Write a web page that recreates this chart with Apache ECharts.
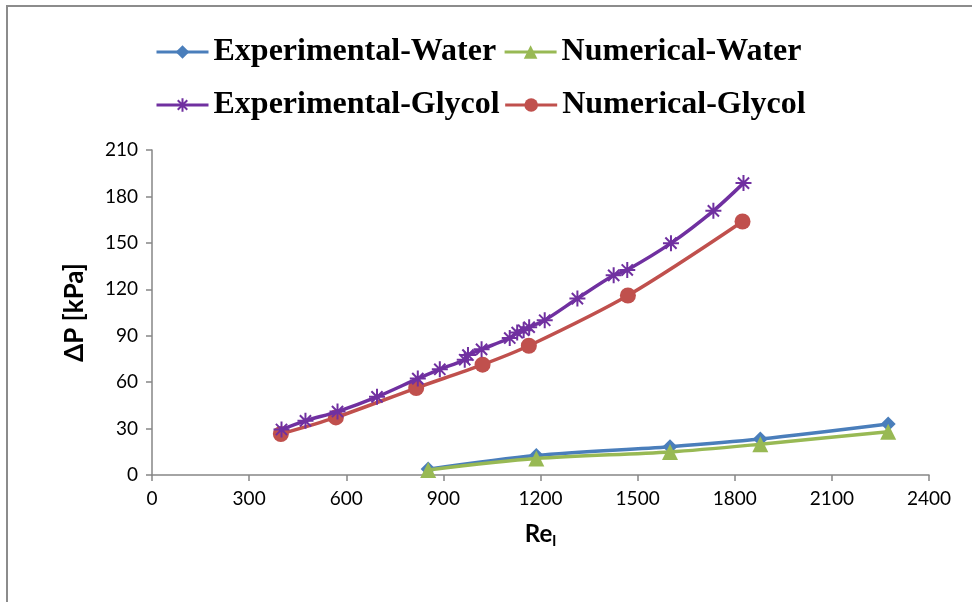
<!DOCTYPE html>
<html>
<head>
<meta charset="utf-8">
<script src="https://cdn.jsdelivr.net/npm/echarts@6/dist/echarts.min.js"></script>
<style>html,body{margin:0;padding:0;background:#fff}#c{width:972px;height:602px}</style>
</head>
<body>
<div id="c"></div>
<script>
var expWaterRe = [853, 1187, 1600, 1879, 2274];
var expWaterDP = [3.8, 12.6, 18.3, 23.2, 32.9];
var numWaterRe = [853, 1187, 1600, 1879, 2274];
var numWaterDP = [3.3, 10.6, 14.9, 19.9, 28.0];
var expGlyRe = [400, 474, 573, 695, 821, 889, 966, 976, 1018, 1105, 1128, 1148, 1165, 1213, 1314, 1426, 1468, 1603, 1734, 1827];
var expGlyDP = [29.4, 35.0, 41.0, 50.5, 62.3, 68.3, 74.5, 77.5, 81.2, 88.5, 92.0, 93.5, 95.5, 100.0, 114.0, 129.0, 132.5, 149.8, 170.7, 188.6];
var numGlyRe = [398, 568, 816, 1021, 1164, 1470, 1824];
var numGlyDP = [26.5, 37.2, 56.2, 71.3, 83.5, 116.0, 163.8];
var xTicks = [0, 300, 600, 900, 1200, 1500, 1800, 2100, 2400];
var yTicks = [0, 30, 60, 90, 120, 150, 180, 210];
var names = ['Experimental-Water', 'Numerical-Water', 'Experimental-Glycol', 'Numerical-Glycol'];

function zip(a, b) { return a.map(function (v, i) { return [v, b[i]]; }); }

var chart = echarts.init(document.getElementById('c'), null, {renderer: 'canvas'});
var axisColor = '#868686';
var tickFont = {fontFamily: 'Lato', fontSize: 19, color: '#000'};
var legendText = {fontFamily: 'Liberation Serif', fontSize: 32, fontWeight: 'bold', color: '#000'};
var starPath = 'path://M10,0 L10,20 M0,10 L20,10 M3,3 L17,17 M17,3 L3,17';

chart.setOption({
  animation: false,
  backgroundColor: '#fff',
  graphic: [{
    type: 'rect', shape: {x: 7, y: 6, width: 1100, height: 1100},
    style: {fill: 'none', stroke: '#8c8c8c', lineWidth: 2}, silent: true
  }],
  legend: [{
    data: [names[0], names[1]], left: 150, top: 31, itemWidth: 52, itemHeight: 17, itemGap: 7,
    textStyle: legendText, lineStyle: {width: 3}
  }, {
    data: [names[2], names[3]], left: 150, top: 84, itemWidth: 52, itemHeight: 17, itemGap: 4,
    textStyle: legendText, lineStyle: {width: 3}
  }],
  grid: {left: 152, right: 43, top: 150, bottom: 127, containLabel: false},
  xAxis: {
    type: 'value', min: 0, max: 2400, interval: 300,
    name: '{a|Re}{b|l}', nameLocation: 'middle', nameGap: 44,
    nameTextStyle: {rich: {
      a: {fontFamily: 'Lato', fontSize: 24, fontWeight: 'bold', color: '#000'},
      b: {fontFamily: 'Lato', fontSize: 16, fontWeight: 'bold', color: '#000', padding: [14, 0, 0, 0]}
    }},
    axisLine: {show: true, onZero: false, lineStyle: {color: axisColor, width: 1.5}},
    axisTick: {show: true, length: 6, inside: false, lineStyle: {color: axisColor, width: 1.5}},
    axisLabel: Object.assign({margin: 14, formatter: function (v) { return xTicks.indexOf(v) >= 0 ? String(v) : ''; }}, tickFont),
    splitLine: {show: false}
  },
  yAxis: {
    type: 'value', min: 0, max: 210, interval: 30,
    name: 'ΔP [kPa]', nameLocation: 'middle', nameGap: 64, nameRotate: 90,
    nameTextStyle: {fontFamily: 'Lato', fontSize: 26, fontWeight: 'bold', color: '#000'},
    axisLine: {show: true, lineStyle: {color: axisColor, width: 1.5}},
    axisTick: {show: true, length: 6, inside: false, lineStyle: {color: axisColor, width: 1.5}},
    axisLabel: Object.assign({margin: 14, formatter: function (v) { return yTicks.indexOf(v) >= 0 ? String(v) : ''; }}, tickFont),
    splitLine: {show: false}
  },
  series: [{
    name: names[0], type: 'line', data: zip(expWaterRe, expWaterDP), smooth: 0.3,
    symbol: 'diamond', symbolSize: 15, itemStyle: {color: '#4a7ebb'},
    lineStyle: {color: '#4a7ebb', width: 3.5}, z: 2
  }, {
    name: names[1], type: 'line', data: zip(numWaterRe, numWaterDP), smooth: 0.3,
    symbol: 'triangle', symbolSize: 16, itemStyle: {color: '#98b954'},
    lineStyle: {color: '#98b954', width: 3.5}, z: 3
  }, {
    name: names[2], type: 'line', data: zip(expGlyRe, expGlyDP), smooth: 0.3,
    symbol: starPath, symbolSize: 16,
    itemStyle: {color: 'none', borderColor: '#7030a0', borderWidth: 2},
    lineStyle: {color: '#7030a0', width: 3.5}, z: 4
  }, {
    name: names[3], type: 'line', data: zip(numGlyRe, numGlyDP), smooth: 0.3,
    symbol: 'circle', symbolSize: 16, itemStyle: {color: '#c0504d'},
    lineStyle: {color: '#c0504d', width: 3.5}, z: 3
  }]
});
</script>
</body>
</html>
